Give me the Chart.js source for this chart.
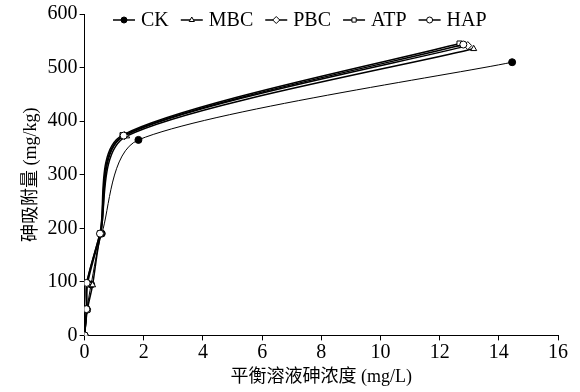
<!DOCTYPE html>
<html>
<head>
<meta charset="utf-8">
<script src="https://cdn.jsdelivr.net/npm/chart.js@4/dist/chart.umd.min.js"></script>
<style>
  html, body { margin: 0; padding: 0; background: #fff; }
  #wrap { width: 580px; height: 392px; }
</style>
</head>
<body>
<div id="wrap"><canvas id="isoChart" width="580" height="392"></canvas></div>
<script>
// series names and values
const seriesNames = ["CK", "MBC", "PBC", "ATP", "HAP"];
const ckX  = [0, 0.08, 0.22, 0.58, 1.82, 14.45];
const ckY  = [0, 48, 95, 190, 365, 510];
const mbcX = [0, 0.09, 0.27, 0.54, 1.42, 13.15];
const mbcY = [0, 47, 94, 189, 372, 535];
const pbcX = [0, 0.07, 0.1, 0.54, 1.35, 12.95];
const pbcY = [0, 49, 97, 190, 373, 541];
const atpX = [0, 0.07, 0.08, 0.52, 1.28, 12.67];
const atpY = [0, 50, 98, 191, 374, 545];
const hapX = [0, 0.06, 0.07, 0.52, 1.32, 12.8];
const hapY = [0, 49, 98, 190, 373, 543];

const xTicks = [0, 16, 2];   // min, max, step
const yTicks = [0, 600, 100];

const FONT = "'Liberation Serif', 'Noto Sans CJK SC', serif";

function pts(xs, ys) {
  return xs.map((x, i) => ({ x: x, y: ys[i] }));
}

const styles = [
  { shape: "circle",   fill: "#000", width: 1.0, order: 5 },
  { shape: "triangle", fill: "#fff", width: 1.5, order: 4 },
  { shape: "rectRot",  fill: "#fff", width: 1.5, order: 3 },
  { shape: "rect",     fill: "#fff", width: 1.5, order: 2 },
  { shape: "circle",   fill: "#fff", width: 1.5, order: 1 }
];
const allData = [pts(ckX, ckY), pts(mbcX, mbcY), pts(pbcX, pbcY), pts(atpX, atpY), pts(hapX, hapY)];

const datasets = seriesNames.map((name, i) => ({
  label: name,
  data: allData[i],
  borderColor: "#000",
  borderWidth: styles[i].width,
  tension: 0.3,
  pointStyle: styles[i].shape,
  pointRadius: styles[i].shape === "rectRot" ? 4 : 3.5,
  pointBackgroundColor: styles[i].fill,
  pointBorderColor: "#000",
  pointBorderWidth: 1,
  order: styles[i].order
}));

// smoothing like the office-chart curves: tangent along (next - prev),
// handle length 1/6 of that, but never more than 0.3 of the adjacent segment
const excelSmooth = {
  id: "excelSmooth",
  beforeDatasetsDraw(chart) {
    const k = 0.3;
    chart.data.datasets.forEach((ds, di) => {
      const meta = chart.getDatasetMeta(di);
      meta.dataset.updateControlPoints(chart.chartArea, "x");
      const p = meta.data;
      for (let i = 0; i < p.length; i++) {
        const prev = p[i - 1] || p[i];
        const next = p[i + 1] || p[i];
        const tx = next.x - prev.x, ty = next.y - prev.y;
        const tl = Math.hypot(tx, ty) || 1;
        const ux = tx / tl, uy = ty / tl;
        const dPrev = Math.hypot(p[i].x - prev.x, p[i].y - prev.y);
        const dNext = Math.hypot(next.x - p[i].x, next.y - p[i].y);
        const lIn = Math.min(tl / 6, k * dPrev);
        const lOut = Math.min(tl / 6, k * dNext);
        p[i].cp1x = p[i].x - ux * lIn;
        p[i].cp1y = p[i].y - uy * lIn;
        p[i].cp2x = p[i].x + ux * lOut;
        p[i].cp2y = p[i].y + uy * lOut;
      }
    });
  }
};

// legend with a line through each marker, drawn inside the plot
const lineLegend = {
  id: "lineLegend",
  afterDraw(chart) {
    const ctx = chart.ctx;
    const y = 20;
    let x = 113;
    ctx.save();
    ctx.font = "20px " + FONT;
    ctx.textBaseline = "middle";
    seriesNames.forEach((name, i) => {
      ctx.strokeStyle = "#000";
      ctx.lineWidth = 1.5;
      ctx.beginPath();
      ctx.moveTo(x, y);
      ctx.lineTo(x + 22, y);
      ctx.stroke();
      ctx.fillStyle = styles[i].fill;
      ctx.lineWidth = 1;
      Chart.helpers.drawPoint(ctx, {
        pointStyle: styles[i].shape,
        radius: styles[i].shape === "rectRot" ? 3.5 : 3,
        borderWidth: 1
      }, x + 11, y);
      ctx.fillStyle = "#000";
      ctx.fillText(name, x + 28, y + 1);
      x += 28 + ctx.measureText(name).width + 12;
    });
    ctx.restore();
  }
};

const ctx = document.getElementById("isoChart").getContext("2d");
new Chart(ctx, {
  type: "line",
  data: { datasets: datasets },
  options: {
    responsive: false,
    animation: false,
    layout: { padding: { left: 16, right: 22, top: 6, bottom: 0 } },
    plugins: {
      legend: { display: false },
      tooltip: { enabled: false }
    },
    scales: {
      x: {
        type: "linear",
        min: xTicks[0],
        max: xTicks[1],
        border: { color: "#000", width: 1 },
        grid: { drawOnChartArea: false, drawTicks: true, tickLength: 5, color: "#000" },
        ticks: { stepSize: xTicks[2], color: "#000", font: { family: FONT, size: 20 }, padding: 0 },
        title: { display: true, text: "平衡溶液砷浓度 (mg/L)", color: "#000", font: { family: FONT, size: 18 }, padding: { top: 2 } }
      },
      y: {
        min: yTicks[0],
        max: yTicks[1],
        border: { color: "#000", width: 1 },
        grid: { drawOnChartArea: false, drawTicks: true, tickLength: 5, color: "#000" },
        ticks: { stepSize: yTicks[2], color: "#000", font: { family: FONT, size: 20 }, padding: 2 },
        title: { display: true, text: "砷吸附量 (mg/kg)", color: "#000", font: { family: FONT, size: 18 }, padding: { bottom: 4 } }
      }
    }
  },
  plugins: [excelSmooth, lineLegend]
});
</script>
</body>
</html>
